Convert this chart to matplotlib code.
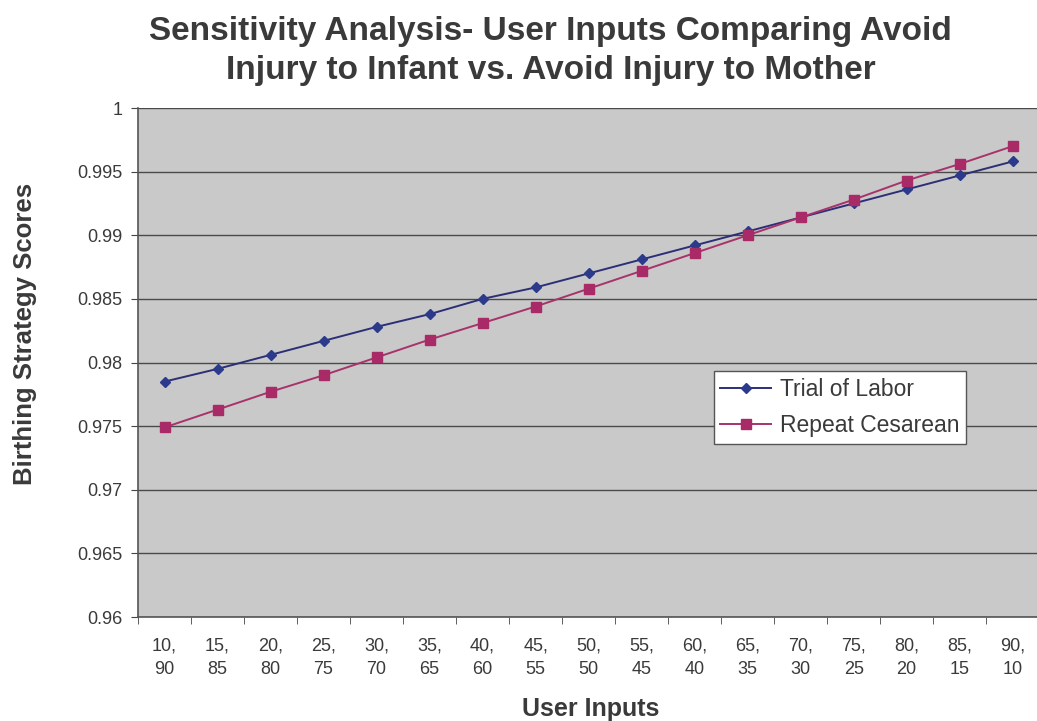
import matplotlib.pyplot as plt
import numpy as np

plt.rcParams['font.family'] = ['Liberation Sans', 'DejaVu Sans']

# weight pairs: infant, mother
infant = [10, 15, 20, 25, 30, 35, 40, 45, 50, 55, 60, 65, 70, 75, 80, 85, 90]
mother = [90, 85, 80, 75, 70, 65, 60, 55, 50, 45, 40, 35, 30, 25, 20, 15, 10]
categories = ["%d,\n%d" % (a, b) for a, b in zip(infant, mother)]

trial_of_labor = [0.9785, 0.9795, 0.9806, 0.9817, 0.9828, 0.9838, 0.9850, 0.9859,
                  0.9870, 0.9881, 0.9892, 0.9903, 0.9914, 0.9925, 0.9936, 0.9947, 0.9958]
repeat_cesarean = [0.9749, 0.9763, 0.9777, 0.9790, 0.9804, 0.9818, 0.9831, 0.9844,
                   0.9858, 0.9872, 0.9886, 0.9900, 0.9914, 0.9928, 0.9943, 0.9956, 0.9970]

yticks = [0.96, 0.965, 0.97, 0.975, 0.98, 0.985, 0.99, 0.995, 1]
ylabels = ["0.96", "0.965", "0.97", "0.975", "0.98", "0.985", "0.99", "0.995", "1"]

txt = '#3a3a3a'
fig = plt.figure(figsize=(10.37, 7.21), dpi=100)
ax = fig.add_axes([0.1331, 0.1442, 0.869, 0.706])
ax.set_facecolor('#c9c9c9')

x = np.arange(len(categories))
ax.plot(x, trial_of_labor, color='#2c2f78', lw=1.4, marker='D', ms=5.5,
        mfc='#2c3a8c', mec='#2c3a8c', label='Trial of Labor', zorder=3)
ax.plot(x, repeat_cesarean, color='#a8326a', lw=1.4, marker='s', ms=7,
        mfc='#a82a66', mec='#a82a66', label='Repeat Cesarean', zorder=3)

ax.set_xlim(-0.5, len(categories) - 0.5)
ax.set_ylim(0.96, 1.0)
ax.set_yticks(yticks)
ax.set_yticklabels(ylabels)
ax.set_xticks(x)
ax.set_xticklabels(categories, linespacing=1.45)
ax.set_xticks(np.arange(len(categories) + 1) - 0.5, minor=True)
ax.tick_params(axis='x', which='major', length=0, pad=15, labelsize=13, labelcolor=txt)
ax.tick_params(axis='x', which='minor', length=5, color='#444444', direction='out')
ax.tick_params(axis='y', length=5, color='#444444', labelsize=13, labelcolor=txt, pad=6)

ax.yaxis.grid(True, color='#4a4a4a', lw=1.0)
ax.set_axisbelow(True)
for side in ['top', 'right']:
    ax.spines[side].set_visible(False)
for side in ['left', 'bottom']:
    ax.spines[side].set_color('#555555')
    ax.spines[side].set_linewidth(1.2)

ax.set_xlabel('User Inputs', fontsize=18, fontweight='bold', color=txt)
ax.xaxis.set_label_coords(0.502, -0.158)
ax.set_ylabel('Birthing Strategy Scores', fontsize=18.5, fontweight='bold', color=txt)
ax.yaxis.set_label_coords(-0.112, 0.556)

fig.suptitle('Sensitivity Analysis- User Inputs Comparing Avoid\nInjury to Infant vs. Avoid Injury to Mother',
             x=0.531, y=0.978, fontsize=24, fontweight='bold', color=txt, linespacing=1.32)

leg = ax.legend(loc='upper left', bbox_to_anchor=(0.626, 0.505), fontsize=16.5,
                frameon=True, fancybox=False, framealpha=1, edgecolor='#555555',
                borderpad=0.3, labelspacing=0.55, handlelength=2.2, handletextpad=0.4)
leg.get_frame().set_linewidth(1.0)
for t in leg.get_texts():
    t.set_color(txt)

fig.savefig('out.png', dpi=100)
